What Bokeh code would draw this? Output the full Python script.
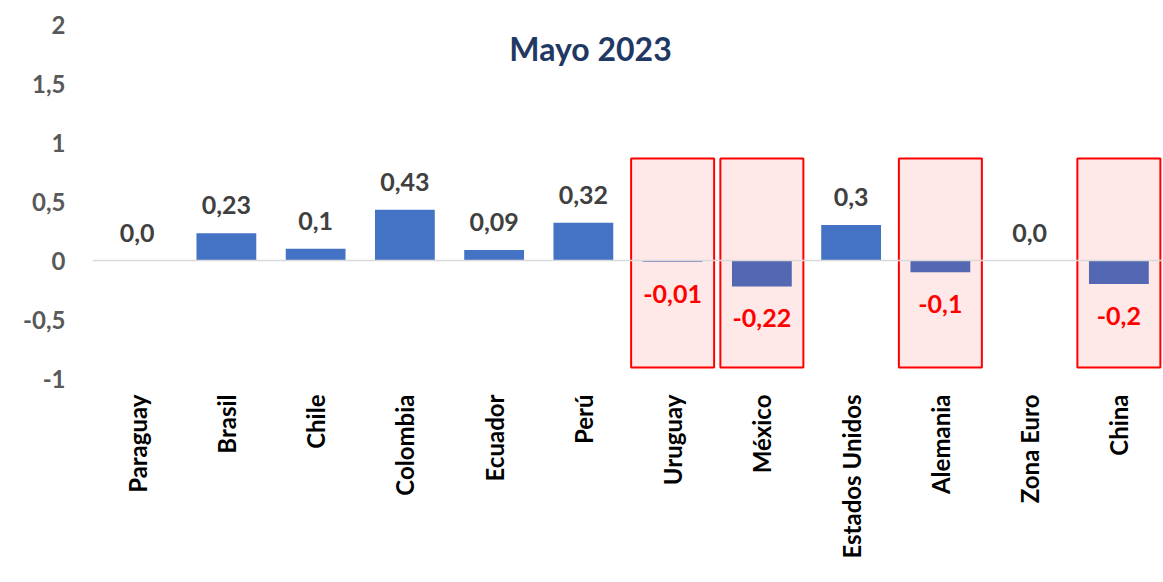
import math
from bokeh.plotting import figure
from bokeh.models import Range1d, FactorRange, FixedTicker, CustomJSTickFormatter, Span, Label
from bokeh.core.properties import value
from bokeh.embed import file_html
from bokeh.resources import INLINE

categories = ["Paraguay", "Brasil", "Chile", "Colombia", "Ecuador", "Perú", "Uruguay",
              "México", "Estados Unidos", "Alemania", "Zona Euro", "China"]
values = [0.0, 0.23, 0.10, 0.43, 0.09, 0.32, -0.01, -0.22, 0.30, -0.10, 0.0, -0.20]
labels = ["0,0", "0,23", "0,1", "0,43", "0,09", "0,32", "-0,01", "-0,22", "0,3", "-0,1", "0,0", "-0,2"]
highlighted = ["Uruguay", "México", "Alemania", "China"]
y_ticks = [-1, -0.5, 0, 0.5, 1, 1.5, 2]
title_text = "Mayo 2023"

FONT = "Lato"
BLUE = "#4472C4"

p = figure(width=1163, height=582, x_range=FactorRange(*categories), y_range=Range1d(-1, 2),
           output_backend="svg", toolbar_location=None,
           min_border_left=92, min_border_right=0, min_border_top=24, min_border_bottom=204)
p.outline_line_color = None
p.xgrid.visible = False
p.ygrid.visible = False
p.background_fill_color = "white"

p.vbar(x=categories, top=values, bottom=0, width=0.67, fill_color=BLUE, line_color=None)

# highlight boxes
box_top, box_bottom = 0.864, -0.907
p.rect(x=highlighted, y=[(box_top + box_bottom) / 2] * len(highlighted), width=0.93,
       height=box_top - box_bottom, fill_color="#FF0000", fill_alpha=0.09,
       line_color="#FF0000", line_width=2)

p.add_layout(Span(location=0, dimension="width", line_color="#D9D9D9", line_width=1.5))

pos_c = [c for c in categories if c not in highlighted]
pos_v = [v for c, v in zip(categories, values) if c not in highlighted]
pos_l = [l for c, l in zip(categories, labels) if c not in highlighted]
neg_c = [c for c in categories if c in highlighted]
neg_v = [v for c, v in zip(categories, values) if c in highlighted]
neg_l = [l for c, l in zip(categories, labels) if c in highlighted]

p.text(x=pos_c, y=pos_v, text=pos_l, text_align="center", text_baseline="middle", y_offset=-28,
       text_font=value(FONT), text_font_style="bold", text_font_size="25px", text_color="#404040")
p.text(x=neg_c, y=[min(v, 0) for v in neg_v], text=neg_l, text_align="center", text_baseline="middle",
       y_offset=32, text_font=value(FONT), text_font_style="bold", text_font_size="25px", text_color="#FF0000")

p.add_layout(Label(x=5.58, y=1.80, text=title_text, text_align="center", text_baseline="middle",
                   text_font=FONT, text_font_style="bold", text_font_size="32px", text_color="#1F3864"))

# y axis
p.yaxis.ticker = FixedTicker(ticks=y_ticks)
p.yaxis.formatter = CustomJSTickFormatter(code="return tick.toString().replace('.', ',');")
p.yaxis.axis_line_color = None
p.yaxis.major_tick_line_color = None
p.yaxis.minor_tick_line_color = None
p.yaxis.major_tick_out = 0
p.yaxis.major_label_standoff = 27
p.yaxis.major_label_text_font = FONT
p.yaxis.major_label_text_font_style = "bold"
p.yaxis.major_label_text_font_size = "24px"
p.yaxis.major_label_text_color = "#595959"

# x axis
p.xaxis.axis_line_color = None
p.xaxis.major_tick_line_color = None
p.xaxis.major_tick_out = 0
p.xaxis.major_label_orientation = math.pi / 2
p.xaxis.major_label_standoff = 16
p.xaxis.major_label_text_font = FONT
p.xaxis.major_label_text_font_style = "bold"
p.xaxis.major_label_text_font_size = "24px"
p.xaxis.major_label_text_color = "#000000"

open("out.html", "w").write(file_html(p, INLINE))
